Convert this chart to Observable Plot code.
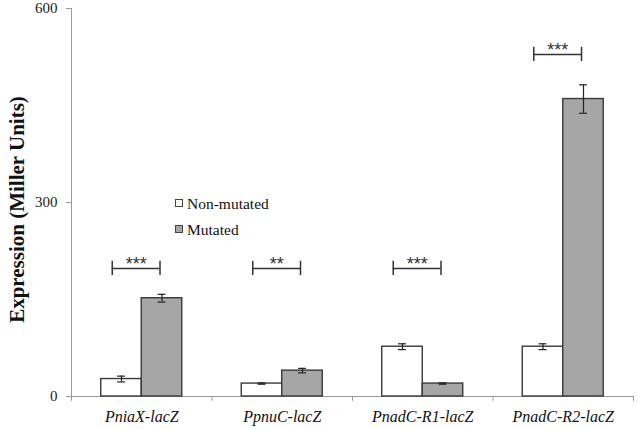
<!DOCTYPE html>
<html><head><meta charset="utf-8">
<script src="https://cdn.jsdelivr.net/npm/d3@7"></script>
<script src="https://cdn.jsdelivr.net/npm/@observablehq/plot@0.6"></script>
<style>
body{margin:0;background:#fff;}
#wrap{position:relative;width:638px;height:429px;background:#fff;}
#wrap svg{position:absolute;left:0;top:0;}
g[aria-label="y-axis tick"]{stroke:#9a9a9a;}
g[aria-label="stars"] text{letter-spacing:1.5px;}
.leg{position:absolute;font-family:"Liberation Serif","Times New Roman",serif;font-size:15.5px;line-height:1;color:#111;white-space:nowrap;}
.sq{position:absolute;width:8px;height:8px;box-sizing:border-box;border:1px solid #444;}
</style></head><body><div id="wrap"></div>
<script>
// ---- data ----
const categories = ["PniaX-lacZ", "PpnuC-lacZ", "PnadC-R1-lacZ", "PnadC-R2-lacZ"];
const seriesNames = ["Non-mutated", "Mutated"];
const nonMutated = [27, 20, 77, 77];
const nonMutatedErr = [4.5, 1, 4.5, 4.5];
const mutated = [152, 40, 20, 460];
const mutatedErr = [6, 3.5, 1, 22];
const sigLabels = ["***", "**", "***", "***"];
const sigLevel = [198, 198, 198, 529];
const yTicks = [0, 300, 600];
const yLabel = "Expression (Miller Units)";

// ---- layout constants ----
const barW = 40.5 / 140.5;          // bar width as a fraction of a category band
const capW = 0.028;                 // half width of error-bar caps
const brL = 0.29, brR = 0.63;       // bracket ends within a band
const brCap = 11;                   // bracket cap half-height (y units)
const fills = ["#ffffff", "#a6a6a6"];
const serif = '"Liberation Serif","Times New Roman",serif';
const sans = '"Liberation Sans",Arial,sans-serif';

const rows = [];
categories.forEach((c, i) => {
  rows.push({i, cat: c, s: 0, v: nonMutated[i], e: nonMutatedErr[i], x1: i + 0.5 - barW, x2: i + 0.5, xc: i + 0.5 - barW / 2});
  rows.push({i, cat: c, s: 1, v: mutated[i], e: mutatedErr[i], x1: i + 0.5, x2: i + 0.5 + barW, xc: i + 0.5 + barW / 2});
});
const caps = rows.flatMap(r => [{...r, y: r.v + r.e}, {...r, y: r.v - r.e}]);
const sig = categories.map((c, i) => ({i, label: sigLabels[i], y: sigLevel[i], x1: i + brL, x2: i + brR}));
const sigEnds = sig.flatMap(d => [{x: d.x1, y: d.y}, {x: d.x2, y: d.y}]);
const bounds = d3.range(categories.length + 1);

const chart = Plot.plot({
  width: 638, height: 429,
  marginLeft: 71, marginRight: 5, marginTop: 8, marginBottom: 33,
  style: {fontFamily: serif, fontSize: "15px", color: "#222", background: "transparent"},
  x: {domain: [0, categories.length], axis: null},
  y: {domain: [0, 600], ticks: yTicks, tickSize: 5, tickPadding: 9, label: null},
  marks: [
    // axes lines
    Plot.ruleX([0], {y1: 0, y2: 600, stroke: "#9a9a9a", strokeWidth: 1}),
    Plot.ruleY([0], {x1: 0, x2: categories.length, stroke: "#9a9a9a", strokeWidth: 1}),
    Plot.ruleX(bounds, {x: d => d, y1: 0, y2: -7.5, stroke: "#9a9a9a", strokeWidth: 1}),
    // bars
    Plot.rectY(rows, {x1: "x1", x2: "x2", y1: 0, y2: "v", fill: d => fills[d.s], stroke: "#3a3a3a", strokeWidth: 1.4}),
    // error bars
    Plot.ruleX(rows, {x: "xc", y1: d => d.v - d.e, y2: d => d.v + d.e, stroke: "#222", strokeWidth: 1.2}),
    Plot.ruleY(caps, {y: "y", x1: d => d.xc - capW, x2: d => d.xc + capW, stroke: "#222", strokeWidth: 1.2}),
    // significance brackets
    Plot.ruleY(sig, {y: "y", x1: "x1", x2: "x2", stroke: "#333", strokeWidth: 1.5}),
    Plot.ruleX(sigEnds, {x: "x", y1: d => d.y - brCap, y2: d => d.y + brCap, stroke: "#333", strokeWidth: 1.5}),
    Plot.text(sig, {x: d => (d.x1 + d.x2) / 2, y: "y", text: "label", lineAnchor: "bottom", dy: 2, fontSize: 18, fill: "#333", fontFamily: sans, ariaLabel: "stars"}),
    // category labels
    Plot.text(categories, {x: (d, i) => i + 0.5, y: 0, text: d => d, lineAnchor: "bottom", dy: 25, fontSize: 16, fontStyle: "italic", fill: "#111", fontFamily: serif}),
    // y label
    Plot.text([yLabel], {frameAnchor: "left", text: d => d, rotate: -90, textAnchor: "middle", dx: -54, dy: 7, fontSize: 21, fontWeight: "bold", fill: "#111", fontFamily: serif})
  ]
});
const wrap = document.getElementById("wrap");
wrap.appendChild(chart);

// legend
const legTops = [196, 222];
const sqTops = [199, 225];
seriesNames.forEach((name, k) => {
  const sq = document.createElement("div");
  sq.className = "sq";
  sq.style.left = "175px"; sq.style.top = sqTops[k] + "px"; sq.style.background = fills[k];
  wrap.appendChild(sq);
  const t = document.createElement("div");
  t.className = "leg";
  t.style.left = "187px"; t.style.top = legTops[k] + "px";
  t.textContent = name;
  wrap.appendChild(t);
});
</script></body></html>
